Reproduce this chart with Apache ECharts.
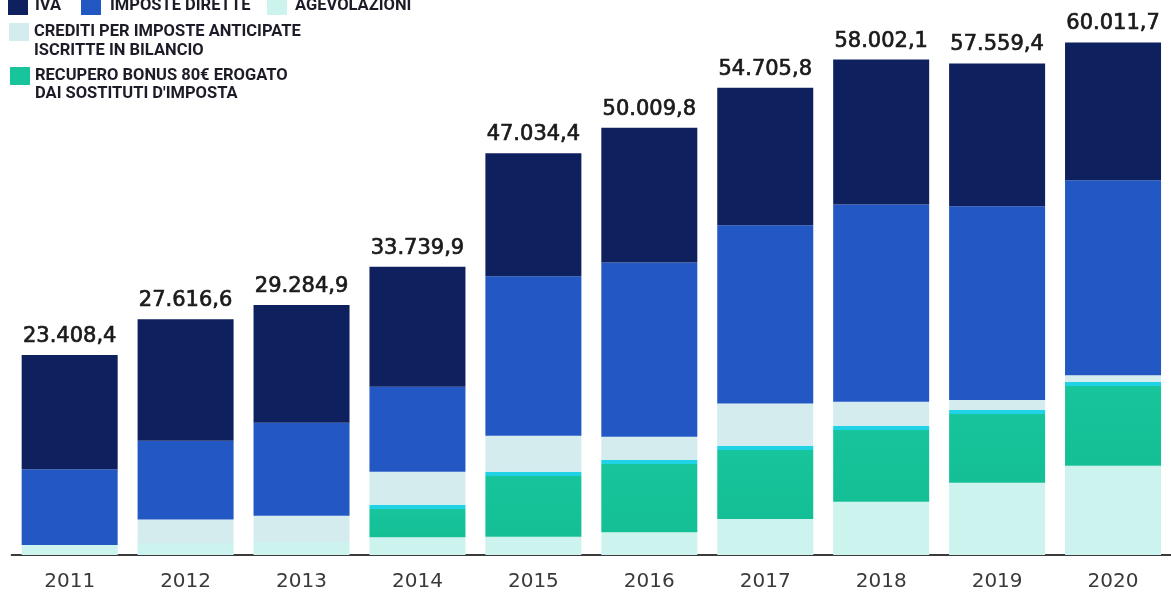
<!DOCTYPE html>
<html>
<head>
<meta charset="utf-8">
<script src="https://cdn.jsdelivr.net/npm/echarts@6/dist/echarts.min.js"></script>
<style>
  html, body { margin: 0; padding: 0; background: #fff; }
  #main { width: 1171px; height: 595px; }
</style>
</head>
<body>
<div id="main"></div>
<script>
// milioni di euro
var years = ['2011', '2012', '2013', '2014', '2015', '2016', '2017', '2018', '2019', '2020'];
var totals = [23408.4, 27616.6, 29284.9, 33739.9, 47034.4, 50009.8, 54705.8, 58002.1, 57559.4, 60011.7];

var agevolazioni = [1170, 1400, 1520, 2070, 2141, 2656, 4212, 6236, 8459, 10448];
var bonus80 = [0, 0, 0, 3780, 7605, 8459, 8541, 8857, 8506, 9828];
var creditiAnticipate = [0, 2770, 3080, 3900, 4212, 2726, 4996, 2843, 1170, 784];
var imposteDirette = [8857, 9196, 10880, 9945, 18685, 20405, 20861, 23096, 22698, 22815];
var iva = [13381, 14250, 13805, 14045, 14391, 15764, 16096, 16970, 16726, 16137];

var NAMES = {
  iva: 'IVA',
  dirette: 'IMPOSTE DIRETTE',
  agev: 'AGEVOLAZIONI',
  crediti: 'CREDITI PER IMPOSTE ANTICIPATE\nISCRITTE IN BILANCIO',
  bonus: 'RECUPERO BONUS 80€ EROGATO\nDAI SOSTITUTI D\'IMPOSTA'
};

var C_IVA = '#0f205f';
var C_DIR = '#2358c4';
var C_AGEV = '#cdf3ef';
var C_CRED = '#d5ecef';
var C_BONUS = '#17c49b';
var C_BAND = '#1fd2e5';

function fmt(v) {
  var s = v.toFixed(1).split('.');
  return s[0].replace(/\B(?=(\d{3})+(?!\d))/g, '.') + ',' + s[1];
}

// la fascia ciano sopra il verde (circa 4px)
function bonusItem(v) {
  if (!v) return v;
  var f = Math.min(470 / v, 0.3);
  return {
    value: v,
    itemStyle: {
      color: new echarts.graphic.LinearGradient(0, 0, 0, 1, [
        { offset: 0, color: C_BAND },
        { offset: f, color: C_BAND },
        { offset: f, color: C_BONUS },
        { offset: 1, color: '#14bf95' }
      ])
    }
  };
}

var legendFont = { fontFamily: 'Roboto', fontWeight: 'bold', fontSize: 16.5, color: '#1c1c28' };

// voci su una riga
function legendAt(name, left, top, padLeft) {
  return {
    data: [name],
    left: left,
    top: top,
    padding: 0,
    itemWidth: 20,
    itemHeight: 18,
    icon: 'rect',
    selectedMode: false,
    textStyle: Object.assign({}, legendFont, { padding: [0, 0, 0, padLeft] })
  };
}

// voci su due righe: quadratino allineato alla prima riga
function legend2At(name, left, top, lh) {
  var h = lh * 2;
  return {
    data: [name],
    left: left,
    top: top,
    padding: 0,
    itemWidth: 20,
    itemHeight: h,
    icon: 'path://M0,0L20,0L20,18L0,18Z M0,' + h + 'L0,' + h,
    selectedMode: false,
    textStyle: Object.assign({}, legendFont, { lineHeight: lh })
  };
}

var chart = echarts.init(document.getElementById('main'));

var barBase = { type: 'bar', stack: 'tot', barWidth: 96 };

chart.setOption({
  animation: false,
  legend: [
    legendAt(NAMES.iva, 8, -3, 2),
    legendAt(NAMES.dirette, 81, -3, 4),
    legendAt(NAMES.agev, 267, -3, 3),
    legend2At(NAMES.crediti, 9, 23, 18.5),
    legend2At(NAMES.bonus, 10, 67, 18)
  ],
  grid: { left: 11.7, right: -6.3, top: 34, bottom: 40 },
  xAxis: {
    type: 'category',
    data: years,
    axisTick: { show: false },
    axisLine: { lineStyle: { color: '#3b3b3b', width: 2 } },
    axisLabel: { fontFamily: 'DejaVu Sans', fontSize: 20, color: '#3a3a3a', margin: 17 }
  },
  yAxis: {
    type: 'value',
    min: 0,
    max: 61000,
    show: false,
    splitLine: { show: false }
  },
  series: [
    Object.assign({}, barBase, { name: NAMES.agev, data: agevolazioni, itemStyle: { color: C_AGEV } }),
    Object.assign({}, barBase, { name: NAMES.bonus, data: bonus80.map(bonusItem), itemStyle: { color: C_BONUS } }),
    Object.assign({}, barBase, { name: NAMES.crediti, data: creditiAnticipate, itemStyle: { color: C_CRED } }),
    Object.assign({}, barBase, { name: NAMES.dirette, data: imposteDirette, itemStyle: { color: C_DIR } }),
    Object.assign({}, barBase, {
      name: NAMES.iva,
      data: iva,
      itemStyle: { color: C_IVA },
      label: {
        show: true,
        position: 'top',
        distance: 8,
        fontFamily: 'DejaVu Sans',
        fontSize: 21,
        color: '#1a1a1a',
        textBorderColor: '#1a1a1a',
        textBorderWidth: 0.7,
        formatter: function (p) { return fmt(totals[p.dataIndex]); }
      }
    })
  ]
});
</script>
</body>
</html>
